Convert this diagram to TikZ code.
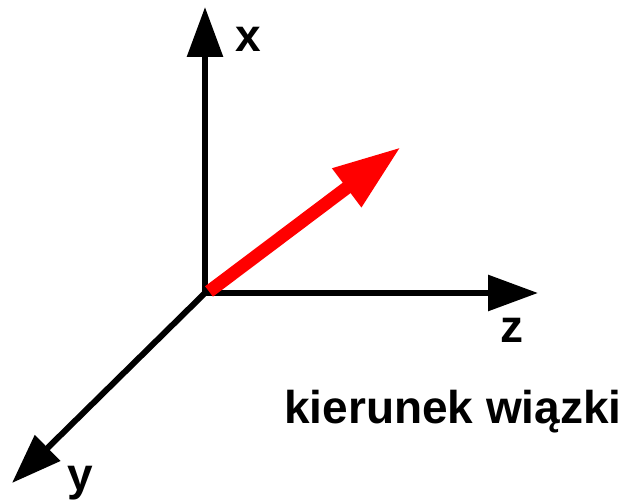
\documentclass[tikz,border=0pt]{standalone}
\usepackage{fontspec}
\setmainfont{Liberation Sans}
\usetikzlibrary{arrows.meta}
\begin{document}
\begin{tikzpicture}[x=1pt,y=1pt,
  axis/.style={line width=6pt,draw=black,-{Triangle[length=50pt,width=35pt]}},
  beam/.style={line width=13pt,draw=red,-{Triangle[length=68pt,width=45pt]}},
  lbl/.style={inner sep=0pt,anchor=base west,font=\fontsize{46}{50}\selectfont\bfseries}]
\useasboundingbox (0,0) rectangle (636,502);
\coordinate (O) at (205,209);
\coordinate (X) at (205,495);
\coordinate (Z) at (538,209);
\coordinate (Y) at (12,19);
\coordinate (R1) at (209,210.5);
\coordinate (R2) at (401,355);
\draw[axis] ([xshift=-3pt]O) -- (Z);
\draw[axis] ([yshift=-3pt]O) -- (X);
\draw[axis] (O) -- (Y);
\draw[beam] (R1) -- (R2);
\node[lbl] (lx) at (235,450) {x};
\node[lbl] (lz) at (500,159) {z};
\node[lbl] (ly) at (67,11) {y};
\node[lbl] (lk) at (284,78) {kierunek wiązki};
\end{tikzpicture}
\end{document}
